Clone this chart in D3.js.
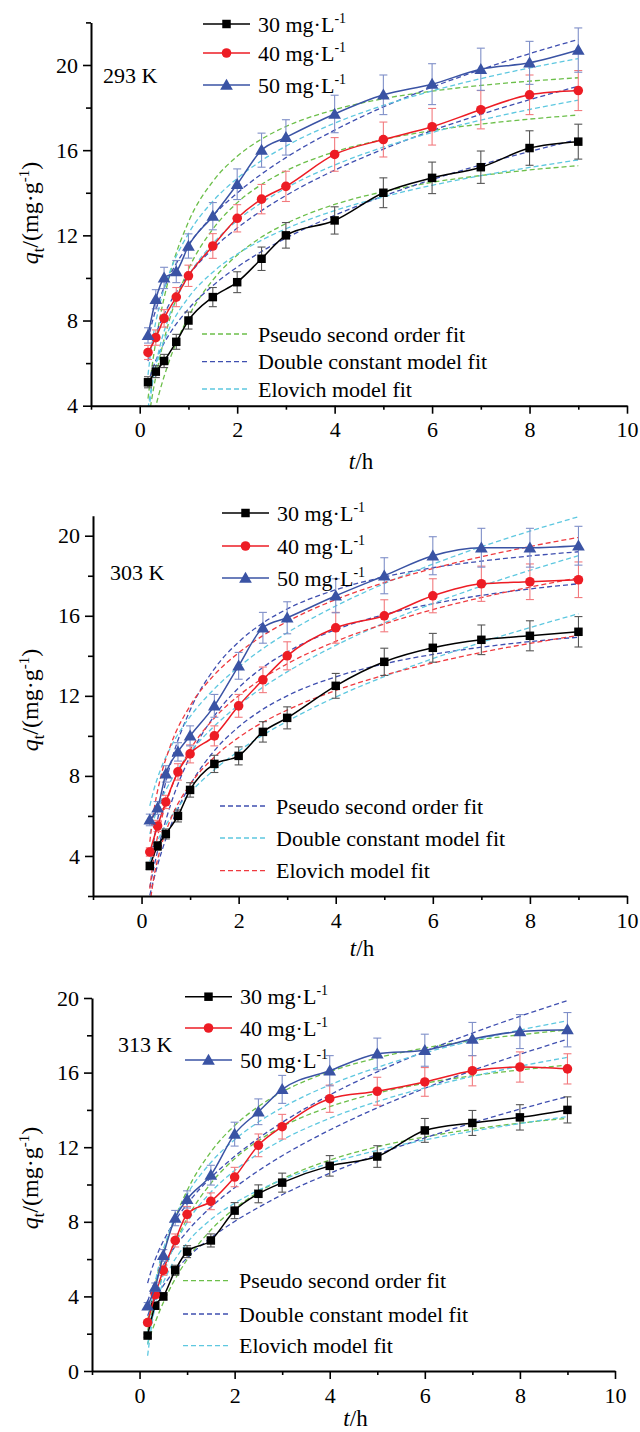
<!DOCTYPE html>
<html>
<head>
<meta charset="utf-8">
<script src="https://cdn.jsdelivr.net/npm/d3@7"></script>
<style>
  body { margin: 0; background: #fff; }
  svg text { font-family: "Liberation Serif", "Times New Roman", serif; fill: #000; }
</style>
</head>
<body>
<script>
// sampling times (h)
var time = [0.17, 0.33, 0.5, 0.75, 1, 1.5, 2, 2.5, 3, 4, 5, 6, 7, 8, 9];
var fitTime = [0.17, 0.25, 0.4, 0.6, 1, 1.5, 2, 2.5, 3, 4, 5, 6, 7, 8, 9];
var concs = ["30", "40", "50"];
var temps = ["293 K", "303 K", "313 K"];
var xMajor = [0, 2, 4, 6, 8, 10], xMinor = [-1, 1, 3, 5, 7, 9];

// 293 K
var q293_30 = [5.1, 5.6, 6.1, 7.0, 8.0, 9.1, 9.8, 10.9, 12.0, 12.7, 14.0, 14.7, 15.2, 16.1, 16.4];
var err293_30 = [0.26, 0.28, 0.31, 0.35, 0.4, 0.45, 0.49, 0.55, 0.6, 0.64, 0.7, 0.74, 0.76, 0.81, 0.82];
var q293_40 = [6.5, 7.2, 8.1, 9.1, 10.1, 11.5, 12.8, 13.7, 14.3, 15.8, 16.5, 17.1, 17.9, 18.6, 18.8];
var err293_40 = [0.33, 0.36, 0.41, 0.45, 0.5, 0.58, 0.64, 0.69, 0.71, 0.79, 0.82, 0.86, 0.9, 0.93, 0.94];
var q293_50 = [7.3, 9.0, 10.0, 10.3, 11.5, 12.9, 14.4, 16.0, 16.6, 17.7, 18.6, 19.1, 19.8, 20.1, 20.7];
var err293_50 = [0.36, 0.45, 0.5, 0.52, 0.57, 0.64, 0.72, 0.8, 0.83, 0.88, 0.93, 0.96, 0.99, 1.01, 1.04];
var pso293_30 = [2.3, 3.19, 4.59, 6.06, 8.18, 9.9, 11.07, 11.92, 12.55, 13.45, 14.05, 14.49, 14.81, 15.07, 15.27];
var dc293_30 = [5.02, 5.63, 6.49, 7.33, 8.54, 9.64, 10.51, 11.24, 11.87, 12.94, 13.84, 14.62, 15.31, 15.94, 16.5];
var el293_30 = [3.87, 5.0, 6.39, 7.58, 9.08, 10.27, 11.12, 11.77, 12.31, 13.16, 13.81, 14.35, 14.8, 15.19, 15.54];
var pso293_40 = [3.19, 4.36, 6.14, 7.95, 10.4, 12.29, 13.53, 14.39, 15.03, 15.92, 16.5, 16.92, 17.22, 17.46, 17.65];
var dc293_40 = [6.09, 6.8, 7.78, 8.74, 10.12, 11.37, 12.34, 13.16, 13.87, 15.06, 16.05, 16.92, 17.68, 18.37, 19.0];
var el293_40 = [3.43, 4.88, 6.65, 8.17, 10.09, 11.61, 12.7, 13.53, 14.22, 15.3, 16.14, 16.83, 17.41, 17.91, 18.35];
var pso293_50 = [4.33, 5.79, 7.94, 10.0, 12.63, 14.53, 15.71, 16.52, 17.11, 17.9, 18.42, 18.77, 19.04, 19.24, 19.4];
var dc293_50 = [7.08, 7.87, 8.96, 10.03, 11.55, 12.92, 13.99, 14.88, 15.65, 16.94, 18.03, 18.96, 19.78, 20.53, 21.2];
var el293_50 = [5.45, 6.9, 8.65, 10.17, 12.08, 13.6, 14.67, 15.51, 16.19, 17.27, 18.1, 18.78, 19.36, 19.86, 20.3];

// 303 K
var q303_30 = [3.5, 4.5, 5.1, 6.0, 7.3, 8.6, 9.0, 10.2, 10.9, 12.5, 13.7, 14.4, 14.8, 15.0, 15.2];
var err303_30 = [0.18, 0.22, 0.25, 0.3, 0.36, 0.43, 0.45, 0.51, 0.55, 0.62, 0.68, 0.72, 0.74, 0.75, 0.76];
var q303_40 = [4.2, 5.5, 6.7, 8.2, 9.1, 10.0, 11.5, 12.8, 14.0, 15.4, 16.0, 17.0, 17.6, 17.7, 17.8];
var err303_40 = [0.21, 0.28, 0.33, 0.41, 0.45, 0.5, 0.57, 0.64, 0.7, 0.77, 0.8, 0.85, 0.88, 0.89, 0.89];
var q303_50 = [5.8, 6.4, 8.1, 9.2, 10.0, 11.5, 13.5, 15.4, 15.9, 17.0, 18.0, 19.0, 19.4, 19.4, 19.5];
var err303_50 = [0.29, 0.32, 0.41, 0.46, 0.5, 0.57, 0.67, 0.77, 0.8, 0.85, 0.9, 0.95, 0.97, 0.97, 0.97];
var pso303_30 = [2.03, 2.82, 4.11, 5.5, 7.54, 9.26, 10.45, 11.33, 12.0, 12.95, 13.6, 14.07, 14.43, 14.71, 14.93];
var dc303_30 = [3.73, 4.3, 5.11, 5.93, 7.16, 8.31, 9.24, 10.04, 10.73, 11.94, 12.96, 13.86, 14.67, 15.41, 16.1];
var el303_30 = [1.56, 2.87, 4.46, 5.84, 7.57, 8.94, 9.92, 10.68, 11.29, 12.27, 13.03, 13.64, 14.17, 14.62, 15.02];
var pso303_40 = [2.43, 3.39, 4.92, 6.57, 8.98, 11.0, 12.4, 13.42, 14.19, 15.31, 16.06, 16.6, 17.02, 17.34, 17.6];
var dc303_40 = [5.1, 5.79, 6.77, 7.74, 9.17, 10.49, 11.54, 12.43, 13.2, 14.52, 15.64, 16.61, 17.48, 18.27, 19.0];
var el303_40 = [2.37, 3.88, 5.72, 7.3, 9.3, 10.89, 12.01, 12.88, 13.6, 14.72, 15.59, 16.31, 16.91, 17.43, 17.9];
var pso303_50 = [3.46, 4.72, 6.65, 8.62, 11.28, 13.35, 14.69, 15.64, 16.34, 17.3, 17.94, 18.4, 18.73, 18.99, 19.2];
var dc303_50 = [6.5, 7.28, 8.37, 9.43, 10.96, 12.35, 13.44, 14.36, 15.15, 16.49, 17.61, 18.58, 19.45, 20.23, 20.95];
var el303_50 = [4.71, 6.19, 7.99, 9.54, 11.5, 13.05, 14.15, 15.01, 15.71, 16.81, 17.66, 18.36, 18.95, 19.46, 19.92];

// 313 K
var q313_30 = [1.9, 3.5, 4.0, 5.4, 6.4, 7.0, 8.6, 9.5, 10.1, 11.0, 11.5, 12.9, 13.3, 13.6, 14.0];
var err313_30 = [0.09, 0.17, 0.2, 0.27, 0.32, 0.35, 0.43, 0.48, 0.51, 0.55, 0.58, 0.64, 0.67, 0.68, 0.7];
var q313_40 = [2.6, 4.1, 5.4, 7.0, 8.4, 9.1, 10.4, 12.1, 13.1, 14.6, 15.0, 15.5, 16.1, 16.3, 16.2];
var err313_40 = [0.13, 0.2, 0.27, 0.35, 0.42, 0.45, 0.52, 0.61, 0.66, 0.73, 0.75, 0.77, 0.81, 0.81, 0.81];
var q313_50 = [3.5, 4.5, 6.2, 8.2, 9.2, 10.5, 12.7, 13.9, 15.1, 16.1, 17.0, 17.2, 17.8, 18.2, 18.3];
var err313_50 = [0.17, 0.22, 0.31, 0.41, 0.46, 0.53, 0.64, 0.69, 0.75, 0.81, 0.85, 0.86, 0.89, 0.91, 0.92];
var pso313_30 = [1.47, 2.07, 3.07, 4.21, 5.97, 7.56, 8.71, 9.59, 10.29, 11.31, 12.02, 12.55, 12.96, 13.29, 13.55];
var dc313_30 = [2.96, 3.46, 4.18, 4.93, 6.06, 7.14, 8.02, 8.77, 9.45, 10.6, 11.61, 12.5, 13.3, 14.04, 14.71];
var el313_30 = [1.41, 2.6, 4.05, 5.3, 6.87, 8.12, 9.0, 9.69, 10.25, 11.14, 11.83, 12.39, 12.86, 13.27, 13.64];
var pso313_40 = [2.17, 3.03, 4.42, 5.93, 8.17, 10.06, 11.38, 12.35, 13.1, 14.17, 14.9, 15.43, 15.83, 16.14, 16.4];
var dc313_40 = [3.72, 4.33, 5.21, 6.11, 7.48, 8.78, 9.83, 10.74, 11.54, 12.92, 14.11, 15.16, 16.11, 16.98, 17.79];
var el313_40 = [0.82, 2.37, 4.27, 5.9, 7.96, 9.59, 10.75, 11.65, 12.39, 13.55, 14.45, 15.18, 15.8, 16.34, 16.82];
var pso313_50 = [2.7, 3.74, 5.39, 7.15, 9.67, 11.75, 13.16, 14.18, 14.96, 16.05, 16.79, 17.32, 17.72, 18.03, 18.28];
var dc313_50 = [4.71, 5.41, 6.42, 7.44, 8.95, 10.37, 11.51, 12.48, 13.33, 14.8, 16.04, 17.14, 18.12, 19.02, 19.86];
var el313_50 = [1.95, 3.58, 5.58, 7.29, 9.46, 11.18, 12.4, 13.35, 14.12, 15.34, 16.28, 17.06, 17.71, 18.28, 18.78];

var seriesColor = ["#000000", "#ed1c24", "#3a53a4"];
var errColor = ["#555555", "#f27a7e", "#7f8fc8"];
var green = "#6cbf4a", navy = "#3f4fb0", cyan = "#5ec8e0", red = "#ef3a3f";

var panels = [
    {temp: temps[0], x0: 91, x1: 627, y0: 405.7, y1: 22.4, yDom: [4, 22],
     yMajor: [4, 8, 12, 16, 20], yMinor: [6, 10, 14, 18, 22],
     data: [q293_30, q293_40, q293_50], err: [err293_30, err293_40, err293_50],
     fits: [[pso293_30, pso293_40, pso293_50], [dc293_30, dc293_40, dc293_50], [el293_30, el293_40, el293_50]],
     fitColors: [green, navy, cyan],
     tempPos: [103, 83], leg: {x: 203, ys: [24, 53, 85]}, fitLeg: {x: 202, ys: [334, 361.7, 389]},
     ylab: 213, xlab: 469},
    {temp: temps[1], x0: 93, x1: 627, y0: 896, y1: 515.7, yDom: [2, 21],
     yMajor: [4, 8, 12, 16, 20], yMinor: [2, 6, 10, 14, 18],
     data: [q303_30, q303_40, q303_50], err: [err303_30, err303_40, err303_50],
     fits: [[pso303_30, pso303_40, pso303_50], [dc303_30, dc303_40, dc303_50], [el303_30, el303_40, el303_50]],
     fitColors: [navy, cyan, red],
     tempPos: [110, 580], leg: {x: 222, ys: [513, 546, 578]}, fitLeg: {x: 220, ys: [806, 838, 870.7]},
     ylab: 700, xlab: 956},
    {temp: temps[2], x0: 92, x1: 615, y0: 1371, y1: 998, yDom: [0, 20],
     yMajor: [0, 4, 8, 12, 16, 20], yMinor: [2, 6, 10, 14, 18],
     data: [q313_30, q313_40, q313_50], err: [err313_30, err313_40, err313_50],
     fits: [[pso313_30, pso313_40, pso313_50], [dc313_30, dc313_40, dc313_50], [el313_30, el313_40, el313_50]],
     fitColors: [green, navy, cyan],
     tempPos: [118, 1052], leg: {x: 185, ys: [996.7, 1028, 1060]}, fitLeg: {x: 183, ys: [1280.7, 1314, 1345.7]},
     ylab: 1178, xlab: 1426}
];
var fitNames = ["Pseudo second order fit", "Double constant model fit", "Elovich model fit"];
var symbols = [d3.symbolSquare, d3.symbolCircle, d3.symbolTriangle];
var symSize = [72, 72, 70];

var svg = d3.select("body").append("svg")
    .attr("width", 640).attr("height", 1432);

panels.forEach(function(p, pi) {
    var g = svg.append("g");
    var x = d3.scaleLinear().domain([-1, 10]).range([p.x0, p.x1]);
    var y = d3.scaleLinear().domain(p.yDom).range([p.y0, p.y1]);

    g.append("clipPath").attr("id", "clip" + pi)
        .append("rect")
        .attr("x", p.x0).attr("y", p.y1)
        .attr("width", p.x1 - p.x0).attr("height", p.y0 - p.y1);

    // fit curves
    var fitLine = d3.line()
        .x(function(d, i) { return x(fitTime[i]); })
        .y(function(d) { return y(d); })
        .curve(d3.curveMonotoneX);
    var fg = g.append("g").attr("clip-path", "url(#clip" + pi + ")");
    p.fits.forEach(function(model, mi) {
        model.forEach(function(vals) {
            fg.append("path")
                .attr("d", fitLine(vals))
                .attr("fill", "none")
                .attr("stroke", p.fitColors[mi])
                .attr("stroke-width", 1.3)
                .attr("stroke-dasharray", "5,3");
        });
    });

    // data
    var dataLine = d3.line()
        .x(function(d, i) { return x(time[i]); })
        .y(function(d) { return y(d); })
        .curve(d3.curveMonotoneX);
    p.data.forEach(function(vals, si) {
        var err = p.err[si];
        var eg = g.append("g").attr("stroke", errColor[si]).attr("stroke-width", 1.1);
        vals.forEach(function(v, i) {
            var cx = x(time[i]), ya = y(v + err[i]), yb = y(v - err[i]);
            eg.append("line").attr("x1", cx).attr("x2", cx).attr("y1", ya).attr("y2", yb);
            eg.append("line").attr("x1", cx - 4).attr("x2", cx + 4).attr("y1", ya).attr("y2", ya);
            eg.append("line").attr("x1", cx - 4).attr("x2", cx + 4).attr("y1", yb).attr("y2", yb);
        });
        g.append("path")
            .attr("d", dataLine(vals))
            .attr("fill", "none")
            .attr("stroke", seriesColor[si])
            .attr("stroke-width", 1.5);
        g.selectAll(null).data(vals).enter().append("path")
            .attr("d", d3.symbol().type(symbols[si]).size(symSize[si]))
            .attr("transform", function(d, i) {
                return "translate(" + x(time[i]) + "," + (y(d) + (si === 2 ? 1 : 0)) + ")";
            })
            .attr("fill", seriesColor[si]);
    });

    // axes
    g.append("g").attr("transform", "translate(0," + p.y0 + ")")
        .call(d3.axisBottom(x).tickValues(xMinor).tickSize(4).tickFormat(""))
        .call(function(a) { a.select(".domain").remove(); });
    g.append("g").attr("transform", "translate(0," + p.y0 + ")")
        .call(d3.axisBottom(x).tickValues(xMajor).tickSize(8).tickSizeOuter(0).tickPadding(8))
        .attr("class", "axis");
    g.append("g").attr("transform", "translate(" + p.x0 + ",0)")
        .call(d3.axisLeft(y).tickValues(p.yMinor).tickSize(5).tickFormat(""))
        .call(function(a) { a.select(".domain").remove(); });
    g.append("g").attr("transform", "translate(" + p.x0 + ",0)")
        .call(d3.axisLeft(y).tickValues(p.yMajor).tickSize(8).tickSizeOuter(0).tickPadding(5))
        .attr("class", "axis");
    g.selectAll(".domain").attr("stroke-width", 2).attr("stroke", "#000");
    g.selectAll(".tick line").attr("stroke-width", 1.6).attr("stroke", "#000");
    g.selectAll(".axis text").attr("font-size", 22)
        .attr("font-family", "Liberation Serif, Times New Roman, serif");

    // axis titles
    var xt = g.append("text").attr("x", (p.x0 + p.x1) / 2 + 2).attr("y", p.xlab)
        .attr("text-anchor", "middle").attr("font-size", 23);
    xt.append("tspan").attr("font-style", "italic").text("t");
    xt.append("tspan").text("/h");

    var yt = g.append("text")
        .attr("transform", "translate(38," + p.ylab + ") rotate(-90)")
        .attr("text-anchor", "middle").attr("font-size", 24);
    yt.append("tspan").attr("font-style", "italic").text("q");
    yt.append("tspan").attr("font-size", 16).attr("dy", 6).text("t");
    yt.append("tspan").attr("dy", -6).text("/(mg·g");
    yt.append("tspan").attr("font-size", 15).attr("dy", -9).text("-1");
    yt.append("tspan").attr("dy", 9).text(")");

    g.append("text").attr("x", p.tempPos[0]).attr("y", p.tempPos[1])
        .attr("font-size", 22).text(p.temp);

    // data legend
    concs.forEach(function(c, si) {
        var ly = p.leg.ys[si];
        g.append("line").attr("x1", p.leg.x).attr("x2", p.leg.x + 47)
            .attr("y1", ly).attr("y2", ly)
            .attr("stroke", seriesColor[si]).attr("stroke-width", 1.5);
        g.append("path")
            .attr("d", d3.symbol().type(symbols[si]).size(symSize[si]))
            .attr("transform", "translate(" + (p.leg.x + 23.5) + "," + (ly + (si === 2 ? 1 : 0)) + ")")
            .attr("fill", seriesColor[si]);
        var t = g.append("text").attr("x", p.leg.x + 55).attr("y", ly + 7.5).attr("font-size", 22);
        t.append("tspan").text(c + " mg·L");
        t.append("tspan").attr("font-size", 14).attr("dy", -9).text("-1");
    });

    // fit legend
    fitNames.forEach(function(name, mi) {
        var ly = p.fitLeg.ys[mi];
        g.append("line").attr("x1", p.fitLeg.x).attr("x2", p.fitLeg.x + 48)
            .attr("y1", ly).attr("y2", ly)
            .attr("stroke", p.fitColors[mi]).attr("stroke-width", 1.3)
            .attr("stroke-dasharray", "5,3");
        g.append("text").attr("x", p.fitLeg.x + 56).attr("y", ly + 7.5)
            .attr("font-size", 22).text(name);
    });
});
</script>
</body>
</html>
